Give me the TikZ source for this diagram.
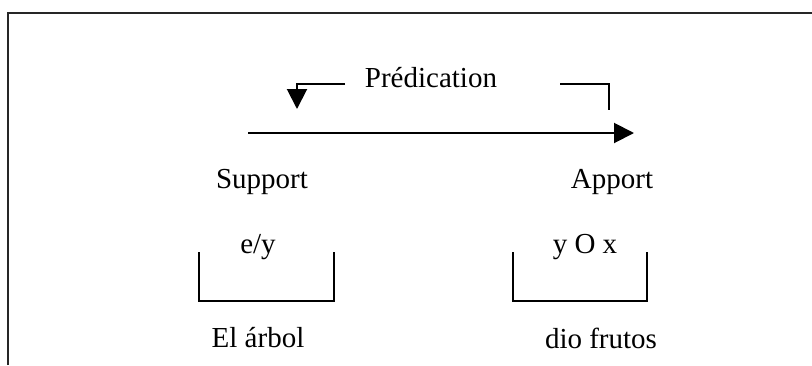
\documentclass[tikz,border=0pt]{standalone}
\usepackage{fontspec}
\setmainfont{Liberation Serif}
\usetikzlibrary{arrows.meta}
\begin{document}
\begin{tikzpicture}[x=1pt,y=-1pt,
  lbl/.style={inner sep=0pt,font=\fontsize{29}{34}\selectfont},
  ln/.style={line width=2pt},
  frame/.style={line width=2.8pt,draw=black!85},
  tri/.style={-{Triangle[length=20pt,width=20pt]}}]
\useasboundingbox (0,0) rectangle (812,365);
% frame
\draw[frame] (8,365) -- (8,13) -- (812,13);
% texts
\node[lbl] (pred) at (431,78) {Prédication};
\node[lbl] (sup) at (262,182) {Support};
\node[lbl] (app) at (612,182) {Apport};
\node[lbl] (ey) at (258,247) {e/y};
\node[lbl] (yox) at (585,247) {y O x};
\node[lbl] (arb) at (258,338) {El árbol};
\node[lbl] (dio) at (601,338) {dio frutos};
% predication brackets
\coordinate (l1) at (345,84);
\coordinate (l2) at (297,84);
\coordinate (l3) at (297,109);
\coordinate (r1) at (560,84);
\coordinate (r2) at (609,84);
\coordinate (r3) at (609,110);
\draw[ln,tri] (l1) -- (l2) -- (l3);
\draw[ln] (r1) -- (r2) -- (r3);
% main arrow
\coordinate (a1) at (248,133);
\coordinate (a2) at (634,133);
\draw[ln,tri] (a1) -- (a2);
% boxes
\coordinate (b1) at (199,252);
\coordinate (b2) at (334,301);
\draw[ln] (b1) |- (b2) -- (b2 |- b1);
\coordinate (c1) at (513,252);
\coordinate (c2) at (647,301);
\draw[ln] (c1) |- (c2) -- (c2 |- c1);
\end{tikzpicture}
\end{document}
